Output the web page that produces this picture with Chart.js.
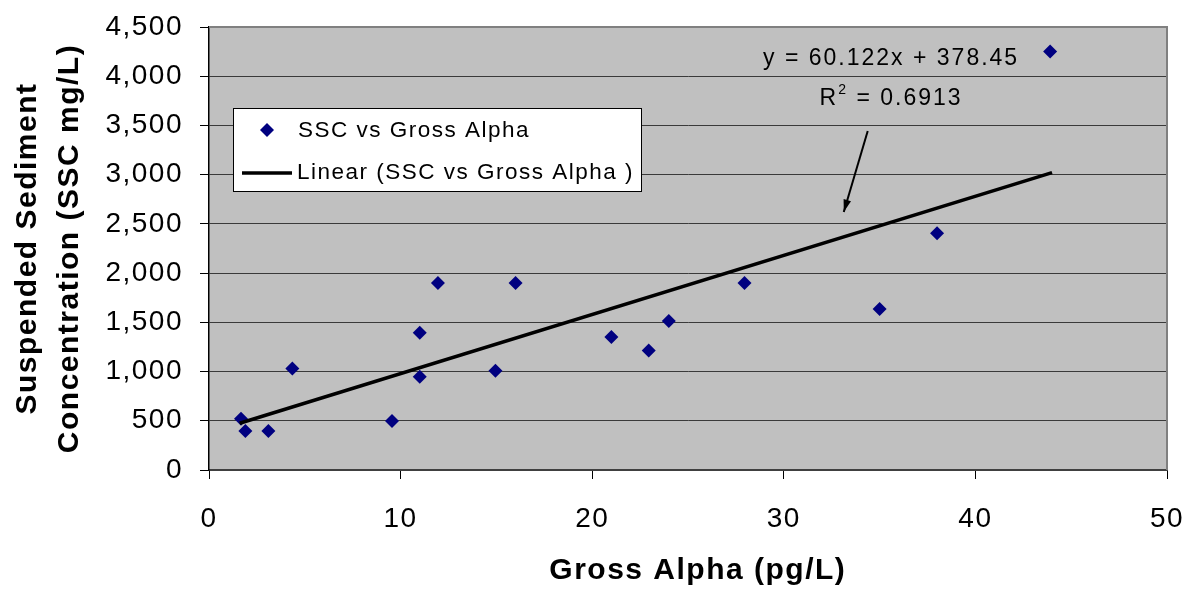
<!DOCTYPE html>
<html>
<head>
<meta charset="utf-8">
<script src="https://cdn.jsdelivr.net/npm/chart.js@4"></script>
<style>
html, body { margin: 0; padding: 0; background: #fff; }
canvas { display: block; }
</style>
</head>
<body>
<canvas id="myChart" width="1188" height="589"></canvas>
<script>
// values
var grossAlpha = [1.67, 1.9, 3.1, 4.35, 9.55, 11.0, 11.0, 11.95, 14.95, 16.0, 21.0, 22.95, 24.0, 27.95, 35.0, 38.0, 43.9];
var sscValues  = [521, 396, 396, 1030, 498, 948, 1395, 1900, 1009, 1900, 1352, 1213, 1514, 1900, 1636, 2405, 4250];

// ends of the Excel trend line
var trendX = [1.6, 44.0];
var trendY = [475, 3020];

var xTicks = [0, 10, 20, 30, 40, 50];
var yTicks = [0, 500, 1000, 1500, 2000, 2500, 3000, 3500, 4000, 4500];

var equationText = 'y = 60.122x + 378.45';
var r2Value = ' = 0.6913';

var FONT = "'Liberation Sans', Arial, Helvetica, sans-serif";

function toPoints(xs, ys) {
    return xs.map(function (x, i) { return { x: x, y: ys[i] }; });
}

// Excel text comes out wider than Arial, a bit of spacing gets closer
function spacing(chart) {
    chart.ctx.letterSpacing = '1.5px';
}

function noPadding(scale) {
    scale.paddingTop = 0;
    scale.paddingBottom = 0;
    scale.paddingLeft = 0;
    scale.paddingRight = 0;
}

var excelLook = {
    id: 'excelLook',
    beforeUpdate: spacing,
    beforeLayout: spacing,
    beforeDraw: function (chart) {
        spacing(chart);
        var ctx = chart.ctx, a = chart.chartArea;
        ctx.save();
        ctx.fillStyle = '#c0c0c0';
        ctx.fillRect(a.left, a.top, a.right - a.left, a.bottom - a.top);
        ctx.restore();
    },
    afterDraw: function (chart) {
        var ctx = chart.ctx, a = chart.chartArea;
        var xs = chart.scales.x, ys = chart.scales.y;
        ctx.save();

        // top and right frame
        ctx.strokeStyle = '#808080';
        ctx.lineWidth = 2;
        ctx.beginPath();
        ctx.moveTo(a.left, a.top);
        ctx.lineTo(a.right, a.top);
        ctx.lineTo(a.right, a.bottom);
        ctx.stroke();

        // trend line label
        ctx.letterSpacing = '2px';
        ctx.fillStyle = '#000';
        ctx.textBaseline = 'middle';
        ctx.font = '23px ' + FONT;
        var cx = xs.getPixelForValue(35.6);
        ctx.textAlign = 'center';
        ctx.fillText(equationText, cx, ys.getPixelForValue(4180));

        var ry = ys.getPixelForValue(3770);
        ctx.textAlign = 'left';
        var wR = ctx.measureText('R').width;
        var wV = ctx.measureText(r2Value).width;
        ctx.font = '14px ' + FONT;
        var w2 = ctx.measureText('2').width;
        var sx = cx - (wR + w2 + wV) / 2;
        ctx.font = '23px ' + FONT;
        ctx.fillText('R', sx, ry);
        ctx.fillText(r2Value, sx + wR + w2, ry);
        ctx.font = '14px ' + FONT;
        ctx.fillText('2', sx + wR, ry - 9);

        // arrow
        var x1 = xs.getPixelForValue(34.38), y1 = ys.getPixelForValue(3444);
        var x2 = xs.getPixelForValue(33.13), y2 = ys.getPixelForValue(2621);
        var ang = Math.atan2(y2 - y1, x2 - x1);
        ctx.strokeStyle = '#000';
        ctx.lineWidth = 2;
        ctx.beginPath();
        ctx.moveTo(x1, y1);
        ctx.lineTo(x2, y2);
        ctx.stroke();
        ctx.beginPath();
        ctx.moveTo(x2, y2);
        ctx.lineTo(x2 - 13 * Math.cos(ang - 0.3), y2 - 13 * Math.sin(ang - 0.3));
        ctx.lineTo(x2 - 13 * Math.cos(ang + 0.3), y2 - 13 * Math.sin(ang + 0.3));
        ctx.closePath();
        ctx.fillStyle = '#000';
        ctx.fill();

        // legend box
        var lx = a.left + 24, ly = a.top + 81, lw = 408, lh = 83;
        ctx.fillStyle = '#fff';
        ctx.fillRect(lx, ly, lw, lh);
        ctx.strokeStyle = '#000';
        ctx.lineWidth = 1;
        ctx.strokeRect(lx + 0.5, ly + 0.5, lw, lh);

        ctx.fillStyle = '#000080';
        ctx.beginPath();
        ctx.moveTo(lx + 34, ly + 22 - 7);
        ctx.lineTo(lx + 34 + 7, ly + 22);
        ctx.lineTo(lx + 34, ly + 22 + 7);
        ctx.lineTo(lx + 34 - 7, ly + 22);
        ctx.closePath();
        ctx.fill();

        ctx.strokeStyle = '#000';
        ctx.lineWidth = 3.5;
        ctx.beginPath();
        ctx.moveTo(lx + 9, ly + 65);
        ctx.lineTo(lx + 59, ly + 65);
        ctx.stroke();

        ctx.letterSpacing = '1.5px';
        ctx.fillStyle = '#000';
        ctx.font = '22.5px ' + FONT;
        ctx.textAlign = 'left';
        ctx.fillText(chart.data.datasets[1].label, lx + 65, ly + 23);
        ctx.fillText(chart.data.datasets[0].label, lx + 64, ly + 65);

        ctx.restore();
    }
};

var ctx = document.getElementById('myChart').getContext('2d');
var myChart = new Chart(ctx, {
    type: 'scatter',
    data: {
        datasets: [
            {
                label: 'Linear (SSC vs Gross Alpha )',
                data: toPoints(trendX, trendY),
                showLine: true,
                borderColor: '#000',
                borderWidth: 3.5,
                pointRadius: 0,
                order: 0
            },
            {
                label: 'SSC vs Gross Alpha',
                data: toPoints(grossAlpha, sscValues),
                pointStyle: 'rectRot',
                pointRadius: 7,
                pointBackgroundColor: '#000080',
                pointBorderColor: '#000080',
                pointBorderWidth: 0,
                order: 1
            }
        ]
    },
    options: {
        responsive: false,
        animation: false,
        layout: { padding: { top: 27, right: 21, left: 0, bottom: 0 } },
        plugins: {
            legend: { display: false },
            tooltip: { enabled: false }
        },
        scales: {
            x: {
                type: 'linear',
                min: 0,
                max: 50,
                afterBuildTicks: function (scale) {
                    scale.ticks = xTicks.map(function (v) { return { value: v }; });
                },
                afterFit: function (scale) {
                    scale.height = 119;
                    noPadding(scale);
                },
                grid: {
                    drawOnChartArea: false,
                    drawTicks: true,
                    tickLength: 9,
                    tickColor: '#000',
                    tickWidth: 1
                },
                border: { color: '#404040', width: 2 },
                ticks: {
                    color: '#000',
                    padding: 23,
                    maxRotation: 0,
                    font: { family: FONT, size: 28 }
                },
                title: {
                    display: true,
                    text: '  Gross Alpha (pg/L)',
                    color: '#000',
                    padding: { top: 0, bottom: 0 },
                    font: { family: FONT, size: 30, weight: 'bold', lineHeight: 1.2 }
                }
            },
            y: {
                type: 'linear',
                min: 0,
                max: 4500,
                afterBuildTicks: function (scale) {
                    scale.ticks = yTicks.map(function (v) { return { value: v }; });
                },
                afterFit: function (scale) {
                    scale.width = 209;
                    noPadding(scale);
                },
                grid: {
                    color: '#3a3a3a',
                    lineWidth: 1,
                    drawTicks: true,
                    tickLength: 9,
                    tickColor: '#000',
                    tickWidth: 1
                },
                border: { color: '#000', width: 1.5 },
                ticks: {
                    color: '#000',
                    padding: 17,
                    font: { family: FONT, size: 28 },
                    callback: function (v) { return v.toLocaleString('en-US'); }
                },
                title: {
                    display: true,
                    text: ['Suspended Sediment', 'Concentration (SSC mg/L)'],
                    color: '#000',
                    padding: { top: 6, bottom: 0 },
                    font: { family: FONT, size: 30, weight: 'bold', lineHeight: 1.42 }
                }
            }
        }
    },
    plugins: [excelLook]
});
</script>
</body>
</html>
